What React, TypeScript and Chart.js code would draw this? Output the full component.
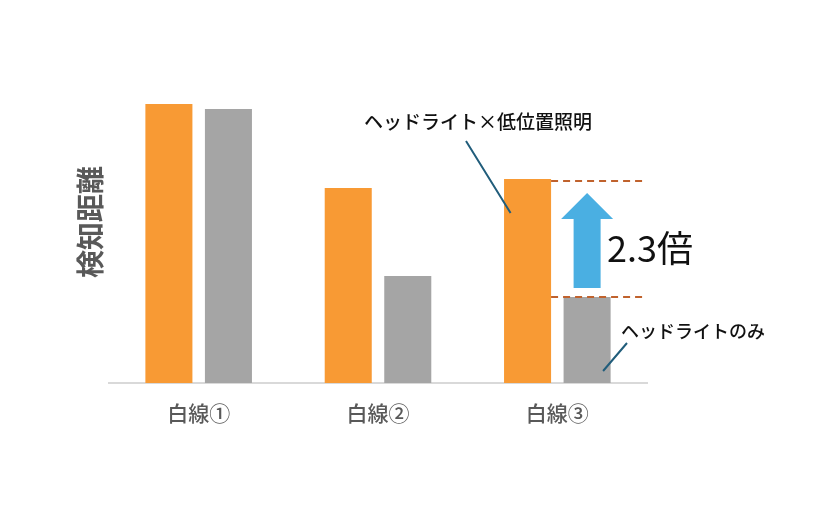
import { useEffect, useRef } from "react";
import { Chart, registerables } from "chart.js";

Chart.register(...registerables);

// データ（画像から目測、単位は任意）
const categories = ["白線①", "白線②", "白線③"];
const withLowLight = [279, 195, 204]; // ヘッドライト×低位置照明
const headlightOnly = [274, 107, 86]; // ヘッドライトのみ
const yMax = 300;

const FONT = "'Noto Sans CJK JP', 'Noto Sans', sans-serif";
const ORANGE = "#F89A34";
const GRAY = "#A5A5A5";
const LEADER = "#215D7B";
const DASH = "#C0622D";
const ARROW = "#4AAFE2";

// 注記（引き出し線・倍率矢印・Y軸タイトル）を描くプラグイン
const annotations = {
  id: "annotations",
  afterDatasetsDraw(chart: Chart) {
    const { ctx } = chart;
    const o3: any = chart.getDatasetMeta(0).data[2];
    const g3: any = chart.getDatasetMeta(1).data[2];
    if (!o3 || !g3) return;

    ctx.save();

    // Y軸タイトル
    ctx.save();
    ctx.translate(90, 222);
    ctx.rotate(-Math.PI / 2);
    ctx.fillStyle = "#595959";
    ctx.font = `bold 28px ${FONT}`;
    ctx.textAlign = "center";
    ctx.textBaseline = "middle";
    ctx.fillText("検知距離", 0, 0);
    ctx.restore();

    // 破線（白線③の2本の高さ）
    const xStart = o3.x + o3.width / 2;
    const xEnd = 643;
    const yUp = o3.y + 2;
    const yLow = g3.y;
    ctx.strokeStyle = DASH;
    ctx.lineWidth = 2;
    ctx.setLineDash([7, 5]);
    ctx.beginPath();
    ctx.moveTo(xStart, yUp);
    ctx.lineTo(xEnd, yUp);
    ctx.moveTo(xStart, yLow);
    ctx.lineTo(xEnd, yLow);
    ctx.stroke();
    ctx.setLineDash([]);

    // 上向き矢印
    const cx = g3.x;
    const tip = yUp + 12;
    const headBase = tip + 26;
    const bottom = yLow - 9;
    ctx.fillStyle = ARROW;
    ctx.beginPath();
    ctx.moveTo(cx, tip);
    ctx.lineTo(cx + 26, headBase);
    ctx.lineTo(cx + 13.5, headBase);
    ctx.lineTo(cx + 13.5, bottom);
    ctx.lineTo(cx - 13.5, bottom);
    ctx.lineTo(cx - 13.5, headBase);
    ctx.lineTo(cx - 26, headBase);
    ctx.closePath();
    ctx.fill();

    // 倍率
    ctx.fillStyle = "#111111";
    ctx.font = `36px ${FONT}`;
    ctx.textAlign = "left";
    ctx.textBaseline = "middle";
    ctx.fillText("2.3倍", cx + 20, 248);

    // 凡例ラベルと引き出し線
    ctx.font = `500 19px ${FONT}`;
    ctx.textAlign = "center";
    ctx.fillStyle = "#111111";
    ctx.fillText("ヘッドライト×低位置照明", 478, 122);
    ctx.font = `500 18px ${FONT}`;
    ctx.textAlign = "left";
    ctx.fillText("ヘッドライトのみ", 621, 331);

    ctx.strokeStyle = LEADER;
    ctx.lineWidth = 2;
    ctx.beginPath();
    ctx.moveTo(466, 141);
    ctx.lineTo(o3.x - 17, 213);
    ctx.moveTo(627, 343);
    ctx.lineTo(g3.x + 16, 371);
    ctx.stroke();

    ctx.restore();
  },
};

function DetectionChart() {
  const canvasRef = useRef<HTMLCanvasElement>(null);

  useEffect(() => {
    if (!canvasRef.current) return;
    const chart = new Chart(canvasRef.current, {
      type: "bar",
      data: {
        labels: categories,
        datasets: [
          {
            label: "ヘッドライト×低位置照明",
            data: withLowLight,
            backgroundColor: ORANGE,
            borderWidth: 0,
          },
          {
            label: "ヘッドライトのみ",
            data: headlightOnly,
            backgroundColor: GRAY,
            borderWidth: 0,
          },
        ],
      },
      options: {
        responsive: true,
        maintainAspectRatio: false,
        animation: false,
        layout: { padding: { left: 109, right: 185, top: 83, bottom: 0 } },
        datasets: { bar: { categoryPercentage: 0.664, barPercentage: 0.79 } },
        scales: {
          x: {
            grid: { display: false, drawTicks: false },
            border: { display: true, color: "#D9D9D9", width: 2 },
            ticks: {
              color: "#595959",
              font: { family: FONT, size: 21, weight: "500" },
              padding: 17,
            },
            afterFit: (scale: any) => {
              scale.height = 122;
            },
          },
          y: {
            display: false,
            min: 0,
            max: yMax,
          },
        },
        plugins: {
          legend: { display: false },
          tooltip: { enabled: false },
        },
      },
      plugins: [annotations],
    });
    return () => chart.destroy();
  }, []);

  return (
    <div style={{ width: 832, height: 505, position: "relative", background: "#fff" }}>
      <canvas ref={canvasRef} />
    </div>
  );
}

export default function App() {
  useEffect(() => {
    document.body.style.margin = "0";
  }, []);
  return <DetectionChart />;
}
